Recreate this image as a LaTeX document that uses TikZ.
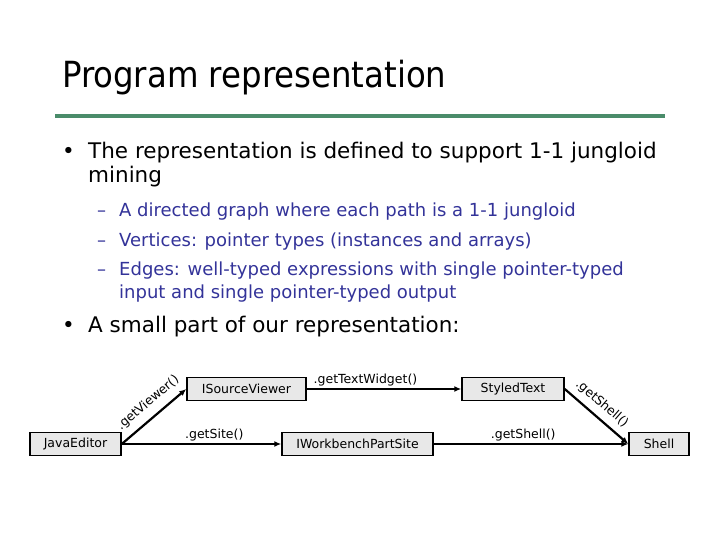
\documentclass[tikz,border=0pt]{standalone}
\usepackage{fontspec}
\setmainfont{DejaVu Sans}
\newfontfamily\diagfont{DejaVu Sans}
\newfontfamily\ttlfont{DejaVu Sans Condensed}
\usepackage{tikz}
\usetikzlibrary{arrows.meta, positioning}
\usepackage{xcolor}
\definecolor{rulegreen}{HTML}{4A8C6A}
\definecolor{subblue}{HTML}{333399}
\tikzset{
  typebox/.style ={draw, fill=black!9, line width=1.5pt, minimum height=23pt, inner sep=2pt, font=\diagfont\fontsize{12.5}{14}\selectfont},
  call/.style    ={-{Latex[length=7pt,width=6pt]}, line width=2.2pt},            % method edge
  mlbl/.style    ={font=\diagfont\fontsize{12.5}{14}\selectfont, inner sep=2pt},
  ttl/.style     ={anchor=base west, inner sep=0pt, font=\ttlfont\fontsize{36}{40}\selectfont},
  item/.style    ={anchor=base west, inner sep=0pt, font=\fontsize{21.5}{24}\selectfont},
  subitem/.style ={anchor=base west, inner sep=0pt, text=subblue, font=\fontsize{18}{20}\selectfont},
}

\begin{document}
\begin{tikzpicture}[x=1pt, y=-1pt]
  \useasboundingbox (0,0) rectangle (720,540);
  % title and rule
  \node[ttl] (title) at (62,88) {Program representation};
  \coordinate (rl) at (55,116);
  \coordinate (rr) at (665,116);
  \draw[rulegreen, line width=4.5pt] (rl) -- (rr);
  % bullets
  \node[item] (b1dot) at (62,159) {\textbullet};
  \node[item] (b1a) at (88,159) {The representation is defined to support 1-1 jungloid};
  \node[item] (b1b) at (88,183) {mining};
  \node[subitem] (s1dash) at (97,216) {--};
  \node[subitem] (s1) at (119,216) {A directed graph where each path is a 1-1 jungloid};
  \node[subitem] (s2dash) at (97,246) {--};
  \node[subitem] (s2) at (119,246) {Vertices: pointer types (instances and arrays)};
  \node[subitem] (s3dash) at (97,275) {--};
  \node[subitem] (s3a) at (119,275) {Edges: well-typed expressions with single pointer-typed};
  \node[subitem] (s3b) at (119,298) {input and single pointer-typed output};
  \node[item] (b2dot) at (62,332) {\textbullet};
  \node[item] (b2) at (88,332) {A small part of our representation:};
  % graph
  \node[typebox, minimum width=91pt]  (je)   at (75.5,444)  {JavaEditor};
  \node[typebox, minimum width=119pt] (isv)  at (246.5,389) {ISourceViewer};
  \node[typebox, minimum width=151pt] (iwps) at (357.5,444) {IWorkbenchPartSite};
  \node[typebox, minimum width=102pt] (st)   at (513,389)   {StyledText};
  \node[typebox, minimum width=60pt]  (sh)   at (659,444)   {Shell};
  \draw[call] (je.east) -- node[mlbl, pos=0.55, above=5pt, sloped] {.getViewer()} (isv.west);
  \draw[call] (je) -- node[mlbl, pos=0.58, above] {.getSite()} (iwps);
  \draw[call] (isv) -- node[mlbl, pos=0.38, above] {.getTextWidget()} (st);
  \draw[call] (st.east) -- node[mlbl, pos=0.45, above=4pt, sloped] {.getShell()} (sh.west);
  \draw[call] (iwps) -- node[mlbl, pos=0.46, above] {.getShell()} (sh);
\end{tikzpicture}
\end{document}
